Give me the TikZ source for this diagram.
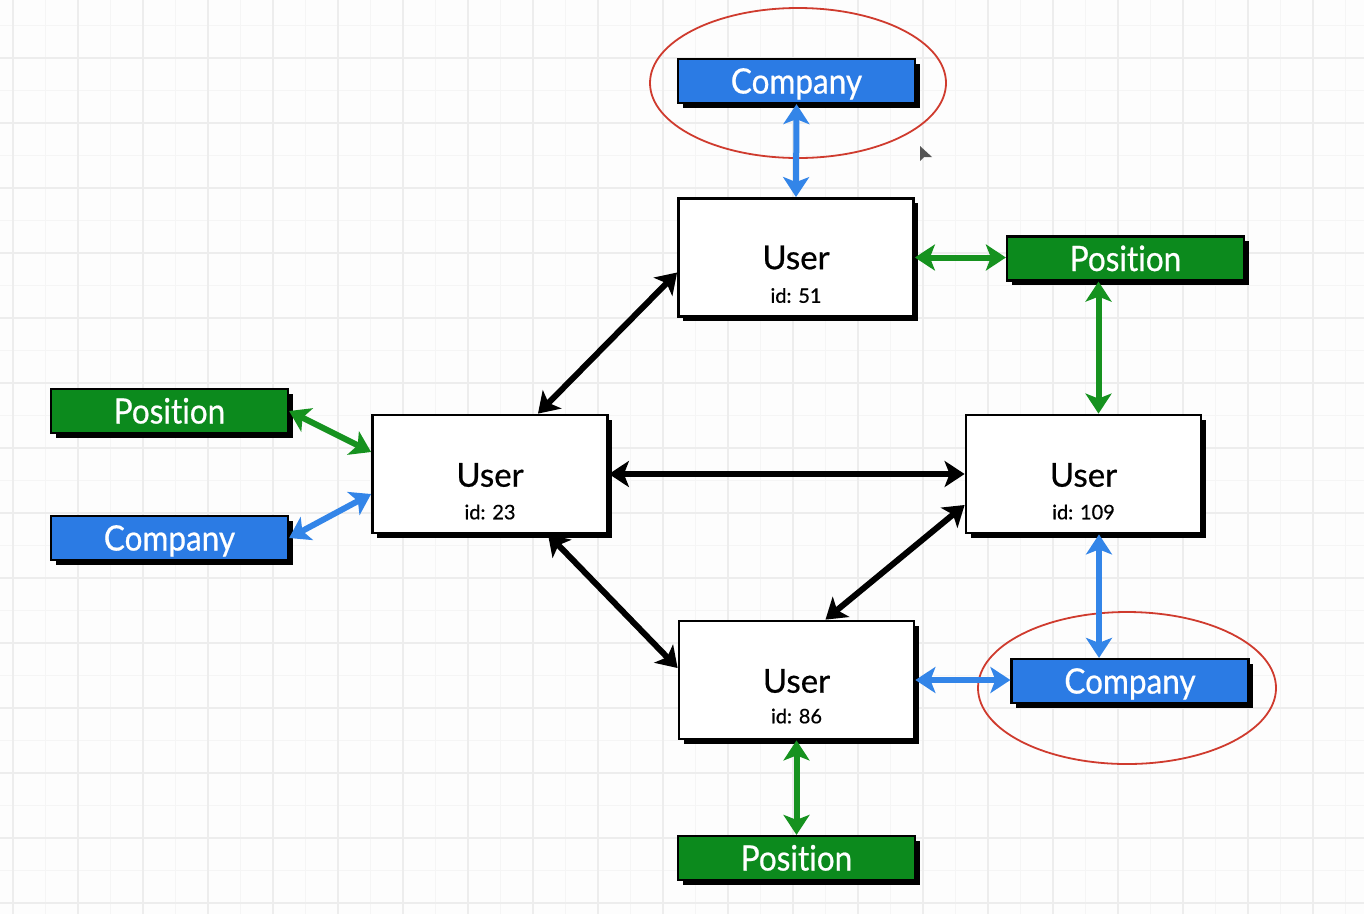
\documentclass[tikz,border=0pt]{standalone}
\usepackage{fontspec}
\setmainfont[Ligatures=NoCommon,FakeBold=0.6]{Lato}
\newfontfamily\labfont[FakeStretch=0.9,Ligatures=NoCommon,FakeBold=0.6]{Lato}
\usetikzlibrary{arrows.meta,shadows,calc}
\definecolor{cblue}{HTML}{2B7BE4}
\definecolor{cgreen}{HTML}{0C8A1D}
\definecolor{ablue}{HTML}{3385E8}
\definecolor{agreen}{HTML}{16921F}
\definecolor{cred}{HTML}{CF3B2E}
\definecolor{gmaj}{HTML}{EDEDED}
\definecolor{gmin}{HTML}{F5F5F5}
\definecolor{bgc}{HTML}{FDFDFD}
\definecolor{cursorc}{HTML}{555555}
\begin{document}
\begin{tikzpicture}[x=1pt,y=-1pt,
  shadowed/.style={drop shadow={shadow xshift=4.5pt, shadow yshift=-4.5pt, fill=black, opacity=1}},
  userbox/.style={draw=black, line width=2.8pt, fill=white, minimum width=235pt, minimum height=118pt, inner sep=0pt, shadowed},
  usertxt/.style={inner sep=0pt, font=\fontsize{33}{33}\selectfont},
  idtxt/.style={inner sep=0pt, font=\fontsize{20}{20}\selectfont},
  colbox/.style={draw=black, line width=2.2pt, inner sep=0pt, minimum width=237pt, minimum height=44pt, text=white, font=\labfont\fontsize{35}{35}\selectfont, text height=25pt, text depth=0pt, shadowed},
  compbox/.style={colbox, fill=cblue},
  posbox/.style={colbox, fill=cgreen},
  conn/.style={line width=6pt, arrows={Stealth[length=20pt,width=26pt,inset=5pt]-Stealth[length=20pt,width=26pt,inset=5pt]}},
  bconn/.style={conn, ablue},
  gconn/.style={conn, agreen},
  kconn/.style={conn, black},
  hl/.style={draw=cred, line width=1.8pt}
]
\fill[bgc] (0,0) rectangle (1364,914);
\useasboundingbox (0,0) rectangle (1364,914);
% grid
\foreach \i in {-1,...,21} {
  \draw[gmin, line width=1.4pt] ({45.5+65*\i},0) -- ++(0,914);
  \draw[gmin, line width=1.4pt] (0,{25.5+65*\i}) -- ++(1364,0);
}
\foreach \i in {-1,...,21} {
  \draw[gmaj, line width=2pt] ({13+65*\i},0) -- ++(0,914);
  \draw[gmaj, line width=2pt] (0,{58+65*\i}) -- ++(1364,0);
}
% highlight ellipses
\draw[hl] (798,83) ellipse [x radius=148pt, y radius=75pt];
\draw[hl] (1127,688) ellipse [x radius=149pt, y radius=76pt];
% user boxes
\node[userbox] (u51) at (796,257.5) {};
\node[usertxt] (u51t) at (u51.center) {User};
\node[idtxt] (u51i) at ($(u51.center)+(0,38)$) {id: 51};
\node[userbox] (u23) at (490,474) {};
\node[usertxt] (u23t) at ($(u23.center)+(0,1)$) {User};
\node[idtxt] (u23i) at ($(u23.center)+(0,38)$) {id: 23};
\node[userbox] (u109) at (1083.5,474) {};
\node[usertxt] (u109t) at ($(u109.center)+(0,1)$) {User};
\node[idtxt] (u109i) at ($(u109.center)+(0,38)$) {id: 109};
\node[userbox] (u86) at (796.5,680) {};
\node[usertxt] (u86t) at ($(u86.center)+(0,1)$) {User};
\node[idtxt] (u86i) at ($(u86.center)+(0,36)$) {id: 86};
% attribute boxes
\node[compbox] (comp1) at (796.5,81) {Company};
\node[posbox] (pos1) at (1125.5,258.5) {Position};
\node[posbox] (posL) at (169.5,411) {Position};
\node[compbox] (compL) at (169.5,538) {Company};
\node[compbox] (compR) at (1130,681) {Company};
\node[posbox] (posB) at (796.5,858) {Position};
% connector end points
\coordinate (p1s) at ($(pos1.south)+(-27,0)$);
\coordinate (u109s) at ($(u109.south)+(15.5,0)$);
% connectors
\draw[bconn] (comp1.south) -- (u51.north);
\draw[gconn] (u51.east) -- (u51.east -| pos1.west);
\draw[gconn] (p1s) -- (p1s |- u109.north);
\draw[kconn] ($(u51.west)+(0,15)$) -- ($(u23.north)+(48,0)$);
\draw[kconn] (u23.east) -- (u109.west);
\draw[kconn] ($(u23.south)+(58,0)$) -- ($(u86.west)+(0,-12)$);
\draw[kconn] ($(u109.west)+(0,31)$) -- ($(u86.north)+(29,0)$);
\draw[bconn] (u109s) -- (u109s |- compR.north);
\draw[bconn] (u86.east) -- (u86.east -| compR.west);
\draw[gconn] (u86.south) -- (posB.north);
\draw[gconn] (posL.east) -- ($(u23.west)+(0,-22)$);
\draw[bconn] (compL.east) -- ($(u23.west)+(0,20)$);
% mouse cursor
\coordinate (cur) at (920,146);
\fill[cursorc] (cur) -- ++(0,15) -- ++(4,-4) -- ++(8,0) -- cycle;
\end{tikzpicture}
\end{document}
